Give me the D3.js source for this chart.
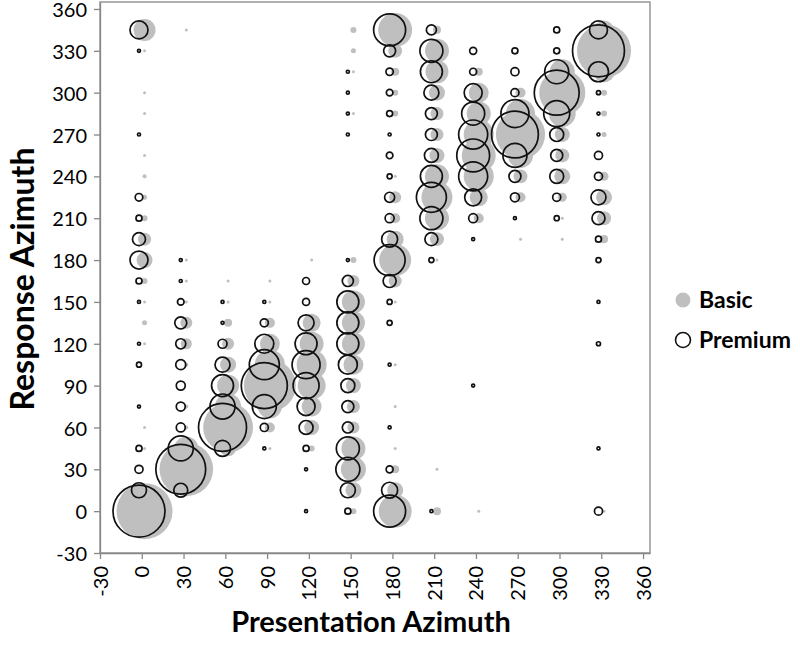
<!DOCTYPE html>
<html>
<head>
<meta charset="utf-8">
<script src="https://cdn.jsdelivr.net/npm/d3@7"></script>
<style>
  html, body { margin: 0; padding: 0; background: #fff; }
  svg { display: block; }
  text { font-family: Lato, "Liberation Sans", sans-serif; }
</style>
</head>
<body>
<svg id="chart" width="800" height="647"></svg>
<script>
// ---- data: [presentation azimuth, response azimuth, relative frequency] ----
const xTicks = [-30, 0, 30, 60, 90, 120, 150, 180, 210, 240, 270, 300, 330, 360];
const yTicks = [-30, 0, 30, 60, 90, 120, 150, 180, 210, 240, 270, 300, 330, 360];
const seriesNames = ["Basic", "Premium"];

const basic = [
  [0,345,13.4],[0,330,0.25],[0,300,0.25],[0,285,0.25],[0,255,0.25],[0,240,0.45],[0,225,0.7],[0,210,1],
  [0,195,4.7],[0,180,7.1],[0,165,1],[0,150,0.25],[0,135,0.7],[0,120,0.25],[0,60,0.25],[0,45,0.25],[0,0,87],
  [30,345,0.25],[30,180,0.25],[30,165,0.25],[30,150,0.25],[30,135,4],[30,120,3.4],[30,105,0.45],
  [30,75,0.45],[30,60,0.45],[30,45,16],[30,30,80],
  [60,165,0.25],[60,150,0.25],[60,135,1.8],[60,120,4],[60,105,7.1],[60,90,13.4],[60,75,18.8],[60,60,69],[60,45,7],
  [90,165,0.25],[90,150,0.25],[90,135,2.8],[90,120,11],[90,105,25],[90,90,75],[90,75,16],[90,60,2.8],[90,45,0.25],
  [120,180,0.25],[120,135,9],[120,120,16],[120,105,25],[120,90,21.8],[120,75,11],[120,60,6.25],[120,45,1],
  [150,345,1],[150,330,0.7],[150,315,0.25],[150,285,0.25],[150,180,1],[150,165,4],[150,150,14.7],[150,135,14.7],
  [150,120,14.7],[150,105,11],[150,90,6.25],[150,75,4.7],[150,60,4],[150,45,16],[150,30,17.4],[150,15,7.1],[150,0,1],
  [180,345,32],[180,330,5.4],[180,315,1.8],[180,300,1],[180,285,1],[180,240,0.25],[180,225,4],[180,210,2.8],
  [180,195,8],[180,180,28.4],[180,165,4.7],[180,150,0.25],[180,105,0.25],[180,75,0.25],[180,45,0.25],
  [180,30,1.8],[180,15,7.1],[180,0,30],
  [210,345,1.8],[210,330,16],[210,315,14.7],[210,300,7.1],[210,285,4.7],[210,270,4.7],[210,255,6.25],[210,240,16],
  [210,225,26.7],[210,210,16],[210,195,5.4],[210,180,0.25],[210,30,0.25],[210,0,1.8],
  [240,315,1.8],[240,300,11],[240,285,16],[240,270,25],[240,255,32],[240,240,25],[240,225,9],[240,210,2.8],[240,0,0.25],
  [270,300,2.8],[270,285,23.4],[270,270,67],[270,255,17.4],[270,240,5.4],[270,225,2.8],[270,195,0.25],
  [300,315,17.4],[300,300,59],[300,285,20],[300,270,6.25],[300,255,5.4],[300,240,7.1],[300,225,2.25],[300,210,0.25],[300,195,0.25],
  [330,345,10],[330,330,81],[330,315,12.3],[330,300,1],[330,285,1],[330,270,0.7],[330,240,2.25],[330,225,7.1],
  [330,210,5.4],[330,195,1.8],[330,0,0.25]
];

const premium = [
  [0,345,9],[0,330,0.25],[0,270,0.25],[0,225,1.6],[0,210,1],[0,195,4.7],[0,180,9],[0,165,1],[0,150,0.25],
  [0,120,0.25],[0,105,0.7],[0,75,0.25],[0,45,1],[0,30,1.8],[0,15,6.25],[0,0,75],
  [30,180,0.25],[30,165,0.25],[30,150,1.2],[30,135,4],[30,120,2.8],[30,105,2.8],[30,90,2.25],[30,75,2.25],
  [30,60,2.25],[30,45,17.4],[30,30,69],[30,15,5.4],
  [60,150,0.25],[60,135,0.25],[60,120,2.25],[60,105,6.25],[60,90,13.4],[60,75,17.4],[60,60,64],[60,45,7.1],
  [90,150,0.25],[90,135,1.8],[90,120,10],[90,105,25],[90,90,59],[90,75,16],[90,60,1.8],[90,45,0.25],
  [120,165,1.36],[120,150,1.36],[120,135,7.1],[120,120,13.4],[120,105,21.8],[120,90,18.8],[120,75,9],[120,60,5.4],
  [120,45,1],[120,30,0.25],[120,0,0.25],
  [150,315,0.25],[150,300,0.25],[150,285,0.25],[150,270,0.25],[150,180,0.25],[150,165,3.4],[150,150,13.4],
  [150,135,13.4],[150,120,13.4],[150,105,10],[150,90,5.4],[150,75,4],[150,60,3.4],[150,45,14.7],[150,30,16],
  [150,15,6.25],[150,0,1],
  [180,345,28.4],[180,330,4],[180,315,1.5],[180,300,1.2],[180,285,1],[180,270,0.25],[180,255,1.2],[180,240,0.7],
  [180,225,2.8],[180,210,2.25],[180,195,7.1],[180,180,26.7],[180,165,4.7],[180,150,0.7],[180,135,0.7],
  [180,105,0.25],[180,60,0.25],[180,30,1.36],[180,15,7.1],[180,0,28.4],
  [210,345,2.8],[210,330,14.7],[210,315,13.4],[210,300,6.25],[210,285,4],[210,270,4],[210,255,5.4],[210,240,13.4],
  [210,225,25],[210,210,14.7],[210,195,4.7],[210,180,0.7],[210,0,0.25],
  [240,330,1.36],[240,315,1.36],[240,300,9],[240,285,14.7],[240,270,23.4],[240,255,30],[240,240,23.4],
  [240,225,8],[240,210,2.25],[240,195,0.25],[240,90,0.25],
  [270,330,1],[270,315,1.8],[270,300,1.8],[270,285,21.8],[270,270,61],[270,255,16],[270,240,4],[270,225,2.25],[270,210,0.25],
  [300,345,1],[300,330,1],[300,315,16],[300,300,56],[300,285,18.8],[300,270,5.4],[300,255,4],[300,240,5.4],
  [300,225,1.8],[300,210,0.7],
  [330,345,9],[330,330,75],[330,315,11.1],[330,300,0.45],[330,285,0.25],[330,270,0.25],[330,255,1.8],[330,240,1.8],
  [330,225,6.25],[330,210,4.7],[330,195,1],[330,180,0.7],[330,150,0.25],[330,120,0.45],[330,45,0.25],[330,0,1.8]
];

// ---- chart ----
const svg = d3.select("#chart");
const pLeft = 100, pRight = 650, pTop = 2, pBottom = 553;

const x = d3.scaleLinear().domain([-30, 365]).range([pLeft, pRight]);
const y = d3.scaleLinear().domain([-30, 365]).range([pBottom, pTop]);
const r = d3.scaleSqrt().domain([0, 100]).range([0, 30]);

const axisColor = "#888888";
const gray = "#bfbfbf";
const fmt = d => String(d);

// plot frame
svg.append("rect")
  .attr("x", pLeft).attr("y", pTop)
  .attr("width", pRight - pLeft).attr("height", pBottom - pTop)
  .attr("fill", "none").attr("stroke", axisColor).attr("stroke-width", 1.3);

const basicShift = 2, premiumShift = -2;

svg.append("g").selectAll("circle").data(basic).join("circle")
  .attr("cx", d => x(d[0] + basicShift))
  .attr("cy", d => y(d[1]))
  .attr("r", d => r(d[2]))
  .attr("fill", gray);

svg.append("g").selectAll("circle").data(premium).join("circle")
  .attr("cx", d => x(d[0] + premiumShift))
  .attr("cy", d => y(d[1]))
  .attr("r", d => r(d[2]))
  .attr("fill", "none")
  .attr("stroke", "#111")
  .attr("stroke-width", 1.7);

// x axis
const xAxis = svg.append("g")
  .attr("transform", `translate(0,${pBottom})`)
  .call(d3.axisBottom(x).tickValues(xTicks).tickFormat(fmt).tickSize(6).tickSizeOuter(0));
xAxis.select(".domain").attr("stroke", axisColor).attr("stroke-width", 1.3);
xAxis.selectAll(".tick line").attr("stroke", axisColor).attr("stroke-width", 1.3);
xAxis.selectAll(".tick text")
  .attr("font-size", 20)
  .attr("fill", "#000")
  .attr("transform", "rotate(-90)")
  .attr("x", -13)
  .attr("y", 0)
  .attr("dy", "0.35em")
  .attr("text-anchor", "end");

// y axis
const yAxis = svg.append("g")
  .attr("transform", `translate(${pLeft},0)`)
  .call(d3.axisLeft(y).tickValues(yTicks).tickFormat(fmt).tickSize(6).tickSizeOuter(0));
yAxis.select(".domain").attr("stroke", axisColor).attr("stroke-width", 1.3);
yAxis.selectAll(".tick line").attr("stroke", axisColor).attr("stroke-width", 1.3);
yAxis.selectAll(".tick text")
  .attr("font-size", 20)
  .attr("fill", "#000")
  .attr("x", -13)
  .attr("dy", "0.38em");

// axis titles
svg.append("text")
  .attr("x", 371)
  .attr("y", 632)
  .attr("text-anchor", "middle")
  .attr("font-size", 29)
  .attr("font-weight", "bold")
  .text("Presentation Azimuth");

svg.append("text")
  .attr("transform", `translate(34,279) rotate(-90)`)
  .attr("text-anchor", "middle")
  .attr("font-size", 32)
  .attr("font-weight", "bold")
  .text("Response Azimuth");

// legend
const legend = svg.append("g");
const legendItems = [
  { name: seriesNames[0], cy: 300, fill: gray, stroke: "none" },
  { name: seriesNames[1], cy: 340, fill: "none", stroke: "#111" }
];
legendItems.forEach(it => {
  legend.append("circle")
    .attr("cx", 683).attr("cy", it.cy).attr("r", 7.5)
    .attr("fill", it.fill).attr("stroke", it.stroke).attr("stroke-width", 1.6);
  legend.append("text")
    .attr("x", 699).attr("y", it.cy)
    .attr("dy", "0.36em")
    .attr("font-size", 23)
    .attr("font-weight", "bold")
    .text(it.name);
});
</script>
</body>
</html>
